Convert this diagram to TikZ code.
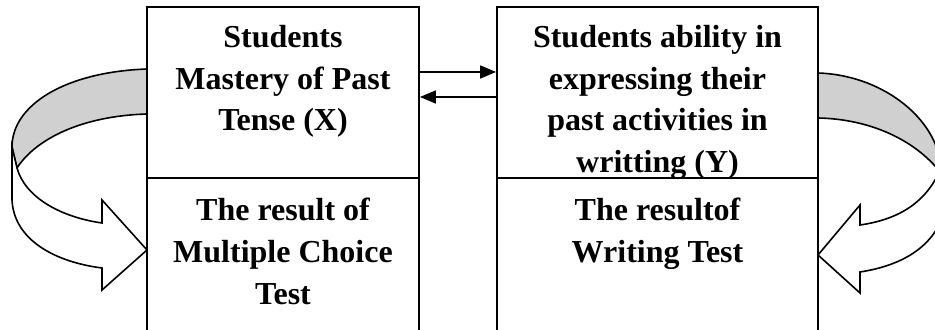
\documentclass[tikz,border=0pt]{standalone}
\usepackage{fontspec}
\setmainfont{Liberation Serif}
\usetikzlibrary{arrows.meta}
\definecolor{bandgray}{HTML}{D0D0D0}
\tikzset{
  panel/.style={draw=black,line width=0.9pt,minimum width=136pt,minimum height=85.5pt,inner sep=0pt},
  body/.style={font=\bfseries\fontsize{16}{20.8}\selectfont,align=center,inner sep=0pt,anchor=north},
  arr/.style={-{Triangle[length=8pt,width=6.5pt]},line width=0.8pt},
  band/.style={draw=black,line width=0.8pt,fill=bandgray},
  ribbon/.style={draw=black,line width=0.8pt,fill=white}
}

\begin{document}
\begin{tikzpicture}[x=0.5pt,y=-0.5pt]
\useasboundingbox (0,0) rectangle (935,330);
\clip (0,0) rectangle (935,330);
% boxes
\node[panel] (mastery) at (283,92.5) {};
\node[panel,minimum height=83.5pt] (choice) at (283,261.5) {};
\node[panel,minimum width=160.5pt] (ability) at (657.5,92.5) {};
\node[panel,minimum width=160.5pt,minimum height=83.5pt] (writing) at (657.5,261.5) {};
\node[body] (masterytext) at (283,25) {Students\\Mastery of Past\\Tense (X)};
\node[body] (choicetext) at (283,198) {The result of\\Multiple Choice\\Test};
\node[body] (abilitytext) at (657.5,25) {Students ability in\\expressing their\\past activities in\\writting (Y)};
\node[body] (writingtext) at (657.5,198) {The resultof\\Writing Test};
% relation X <-> Y
\draw[arr] ([yshift=10.25pt]mastery.east) -- ([yshift=10.25pt]ability.west);
\draw[arr] ([yshift=-2.25pt]ability.west) -- ([yshift=-2.25pt]mastery.east);
% curved ribbon arrows
\draw[band] (147,69) .. controls (65,72) and (12,105) .. (12,147) -- (17,168) .. controls (35,140) and (80,116) .. (147,114) -- cycle;
\draw[ribbon] (12,147) -- (12,200) .. controls (14,240) and (55,262) .. (102,268) -- (102,290) -- (147,250) -- (102,200) -- (102,223) .. controls (60,217) and (25,197) .. (17,168) -- cycle;
\draw[band] (818,73) .. controls (880,75) and (932,115) .. (940,160) -- (940,172) .. controls (915,140) and (870,119) .. (818,118) -- cycle;
\draw[ribbon] (940,170) .. controls (925,205) and (895,220) .. (860,225) -- (860,205) -- (818,255) -- (860,293) -- (860,272) .. controls (905,265) and (935,245) .. (945,210) -- (945,170) -- cycle;
\end{tikzpicture}
\end{document}
